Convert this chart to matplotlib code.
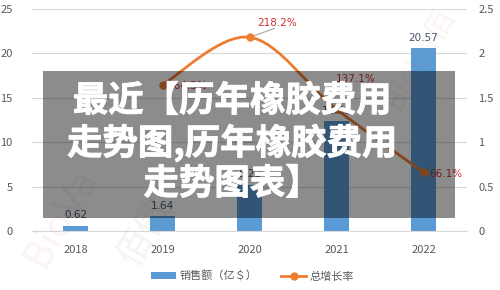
import matplotlib
matplotlib.use("Agg")
import matplotlib.pyplot as plt
import matplotlib.patheffects as pe
from matplotlib.path import Path
from matplotlib.patches import PathPatch, Rectangle
from matplotlib.lines import Line2D
from matplotlib.patches import Patch

plt.rcParams['font.family'] = ['Noto Sans CJK SC', 'DejaVu Sans']

# ---- data ----
years = ["2018", "2019", "2020", "2021", "2022"]
sales = [0.62, 1.64, 5.22, 12.38, 20.57]
sales_labels = ["0.62", "1.64", "5.22", "12.38", "20.57"]
growth_years = ["2019", "2020", "2021", "2022"]
growth = [1.645, 2.182, 1.371, 0.661]
growth_labels = ["164.5%", "218.2%", "137.1%", "66.1%"]
left_ticks = [0, 5, 10, 15, 20, 25]
right_ticks = [0, 0.5, 1, 1.5, 2, 2.5]
right_tick_labels = ["0", "0.5", "1", "1.5", "2", "2.5"]
legend_labels = ["销售额（亿＄）", "总增长率"]
overlay_lines = ["最近【历年橡胶费用", "走势图,历年橡胶费用", "走势图表】"]

BAR = "#5b9bd5"
LINE = "#ed7d31"
GRID = "#d9d9d9"
TICK = "#595959"
VAL = "#44546a"
RED = "#d0312d"

fig = plt.figure(figsize=(5, 2.9), dpi=100)
ax = fig.add_axes([0.064, 0.2034, 0.87, 0.7656])
ax2 = ax.twinx()

x = list(range(len(years)))
ax.bar(x, sales, width=0.29, color=BAR, zorder=2)
ax.set_xlim(-0.5, len(years) - 0.5)
ax.set_ylim(0, 25)
ax.set_yticks(left_ticks)
ax.set_xticks(x)
ax.set_xticklabels(years)
ax.grid(axis='y', color=GRID, linewidth=0.8, zorder=0)
ax.set_axisbelow(True)
for s in ["top", "right", "left"]:
    ax.spines[s].set_visible(False)
ax.spines["bottom"].set_color(GRID)
ax.tick_params(axis='both', length=0, colors=TICK, labelsize=8)
ax.tick_params(axis='x', pad=10)
ax.tick_params(axis='y', pad=14)

for xi, v, lab in zip(x, sales, sales_labels):
    ax.annotate(lab, (xi, v), xytext=(0, 4), textcoords="offset points",
                ha="center", va="bottom", fontsize=7.5, color=VAL,
                family=['DejaVu Sans'])

# growth line (smoothed, Excel-style bezier)
gx = [years.index(y) for y in growth_years]
pts = list(zip(gx, growth))
verts = [pts[0]]
codes = [Path.MOVETO]
n = len(pts)
for i in range(n - 1):
    p0 = pts[i - 1] if i > 0 else pts[i]
    p1 = pts[i]
    p2 = pts[i + 1]
    p3 = pts[i + 2] if i + 2 < n else pts[i + 1]
    c1 = (p1[0] + (p2[0] - p0[0]) / 6, p1[1] + (p2[1] - p0[1]) / 6)
    c2 = (p2[0] - (p3[0] - p1[0]) / 6, p2[1] - (p3[1] - p1[1]) / 6)
    verts += [c1, c2, p2]
    codes += [Path.CURVE4] * 3
ax2.add_patch(PathPatch(Path(verts, codes), facecolor="none", edgecolor=LINE,
                        linewidth=2, zorder=3))
ax2.plot(gx, growth, linestyle="none", marker="o", markersize=5,
         color=LINE, zorder=4)
ax2.set_ylim(0, 2.5)
ax2.set_yticks(right_ticks)
ax2.set_yticklabels(right_tick_labels)
for s in ["top", "right", "left", "bottom"]:
    ax2.spines[s].set_visible(False)
ax2.tick_params(axis='y', length=0, colors=TICK, labelsize=8, pad=8)

offsets = [(4, -1, "left", "center"), (20, 7, "center", "bottom"),
           (14, 18, "center", "bottom"), (4, -1, "left", "center")]
for (xi, v, lab, (dx, dy, ha, va)) in zip(gx, growth, growth_labels, offsets):
    ax2.annotate(lab, (xi, v), xytext=(dx, dy), textcoords="offset points",
                 ha=ha, va=va, fontsize=7.5, color=RED,
                 family=['DejaVu Sans'])
# leader line for 218.2%
ax2.annotate("", (gx[1], growth[1]), xytext=(20, 7), textcoords="offset points",
             arrowprops=dict(arrowstyle="-", color="#a6a6a6", linewidth=0.8))

# legend
handles = [Patch(facecolor=BAR, edgecolor="none"),
           Line2D([0], [0], color=LINE, linewidth=2, marker="o", markersize=5)]
fig.legend(handles, legend_labels, loc="center", bbox_to_anchor=(0.505, 0.048),
           ncol=2, frameon=False, fontsize=8, labelcolor=TICK,
           handlelength=2.2, handleheight=0.6, columnspacing=2.2, handletextpad=0.3)

# faint watermarks
fig.text(0.12, 0.25, "BioVa", fontsize=28, color="#e08080", alpha=0.09,
         rotation=60, ha="center", va="center", family=['DejaVu Sans'])
fig.text(0.29, 0.2, "佰傲", fontsize=26, color="#909090", alpha=0.10,
         rotation=60, ha="center", va="center")
fig.text(0.84, 0.8, "BioVa佰", fontsize=22, color="#e08080", alpha=0.09,
         rotation=60, ha="center", va="center")

# overlay box and title text
fig.add_artist(Rectangle((0.086, 0.2483), 0.824, 0.507, transform=fig.transFigure,
                         facecolor="black", alpha=0.45, edgecolor="none", zorder=10))
for yy, line in zip([0.652, 0.507, 0.366], overlay_lines):
    fig.text(0.464, yy, line, fontsize=25.5, fontweight="bold", color="white",
             ha="center", va="center", zorder=11,
             path_effects=[pe.withStroke(linewidth=0.6, foreground="white")])

fig.savefig("out.png", dpi=100)
